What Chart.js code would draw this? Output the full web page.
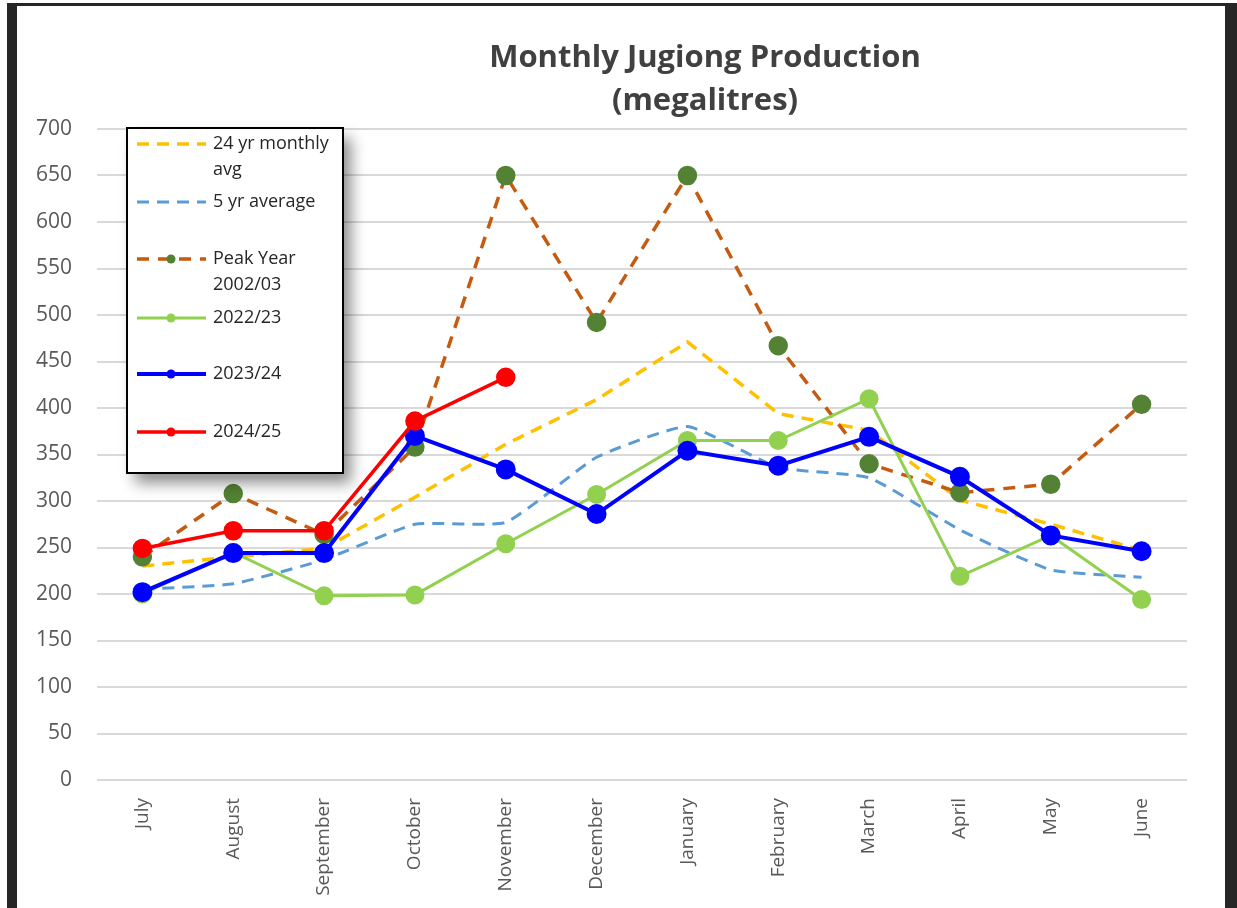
<!DOCTYPE html>
<html>
<head>
<meta charset="utf-8">
<script src="https://cdn.jsdelivr.net/npm/chart.js@4.4.1/dist/chart.umd.min.js"></script>
<style>
  body { margin: 0; background: #fff; }
  #wrap { position: relative; width: 1237px; height: 908px; overflow: hidden; }
  #chart { position: absolute; left: 0; top: 0; }
  .frame { position: absolute; background: #262626; }
</style>
</head>
<body>
<div id="wrap">
  <canvas id="chart" width="1237" height="908"></canvas>
  <div class="frame" style="left:7px;top:3px;width:1230px;height:3px"></div>
  <div class="frame" style="left:7px;top:3px;width:10px;height:905px"></div>
  <div class="frame" style="left:1225px;top:3px;width:12px;height:905px"></div>
</div>
<script>
// chart data
const titleLines = ["Monthly Jugiong Production", "(megalitres)"];
const months = ["July", "August", "September", "October", "November", "December",
  "January", "February", "March", "April", "May", "June"];
const avg24yr = [230, 240, 249, 304, 361, 409, 471, 394, 376, 301, 275, 247];
const avg5yr = [205, 211, 237, 275, 277, 347, 380, 336, 325, 269, 226, 218];
const peak0203 = [240, 308, 264, 358, 650, 492, 650, 467, 340, 309, 318, 404];
const year2223 = [200, 245, 198, 199, 254, 307, 365, 365, 410, 219, 263, 194];
const year2324 = [202, 244, 244, 370, 334, 286, 354, 338, 369, 326, 263, 246];
const year2425 = [249, 268, 268, 386, 433];
const yTicks = { min: 0, max: 700, step: 50 };

const ctx = document.getElementById("chart").getContext("2d");

// title drawn off-centre like the original
const titlePlugin = {
  id: "titleText",
  afterDraw(chart) {
    const c = chart.ctx;
    c.save();
    c.font = 'bold 31px "Open Sans"';
    c.fillStyle = "#404040";
    c.textAlign = "center";
    c.textBaseline = "alphabetic";
    titleLines.forEach((t, i) => c.fillText(t, 705, 67 + i * 43));
    c.restore();
  },
};

// boxed legend floating over the plot
const legendPlugin = {
  id: "boxLegend",
  afterDraw(chart) {
    const c = chart.ctx;
    const rowY = [144, 202, 259, 318, 374, 432];
    c.save();
    c.shadowColor = "rgba(0,0,0,0.45)";
    c.shadowBlur = 14;
    c.shadowOffsetX = 8;
    c.shadowOffsetY = 10;
    c.fillStyle = "#fff";
    c.fillRect(127, 128, 216, 345);
    c.restore();
    c.save();
    c.strokeStyle = "#000";
    c.lineWidth = 2;
    c.strokeRect(127, 128, 216, 345);
    c.font = '18px "Open Sans"';
    c.textBaseline = "middle";
    chart.data.datasets.forEach((ds, i) => {
      const y = rowY[i];
      c.strokeStyle = ds.borderColor;
      c.lineWidth = ds.borderWidth;
      c.setLineDash(ds.borderDash || []);
      c.beginPath();
      c.moveTo(137, y);
      c.lineTo(206, y);
      c.stroke();
      c.setLineDash([]);
      if (ds.pointRadius > 0) {
        c.fillStyle = ds.pointBackgroundColor;
        c.beginPath();
        c.arc(171, y, 4.5, 0, Math.PI * 2);
        c.fill();
      }
      // wrap label text
      c.fillStyle = "#262626";
      const words = ds.label.split(" ");
      let line = "";
      let ly = y;
      words.forEach((w) => {
        const test = line ? line + " " + w : w;
        if (c.measureText(test).width > 125 && line) {
          c.fillText(line, 213, ly);
          line = w;
          ly += 26;
        } else {
          line = test;
        }
      });
      c.fillText(line, 213, ly);
    });
    c.restore();
  },
};

new Chart(ctx, {
  type: "line",
  data: {
    labels: months,
    datasets: [
      {
        label: "24 yr monthly avg",
        data: avg24yr,
        borderColor: "#FFC000",
        borderWidth: 3.5,
        borderDash: [12, 8],
        pointRadius: 0,
        order: 6,
      },
      {
        label: "5 yr average",
        data: avg5yr,
        borderColor: "#5B9BD5",
        borderWidth: 3,
        borderDash: [12, 8],
        pointRadius: 0,
        tension: 0.15,
        order: 5,
      },
      {
        label: "Peak Year 2002/03",
        data: peak0203,
        borderColor: "#C55A11",
        borderWidth: 3.5,
        borderDash: [12, 9],
        pointRadius: 8,
        pointBackgroundColor: "#548235",
        pointBorderColor: "#548235",
        order: 4,
      },
      {
        label: "2022/23",
        data: year2223,
        borderColor: "#92D050",
        borderWidth: 3,
        pointRadius: 8,
        pointBackgroundColor: "#92D050",
        pointBorderColor: "#92D050",
        order: 3,
      },
      {
        label: "2023/24",
        data: year2324,
        borderColor: "#0000FF",
        borderWidth: 4,
        pointRadius: 8,
        pointBackgroundColor: "#0000FF",
        pointBorderColor: "#0000FF",
        order: 2,
      },
      {
        label: "2024/25",
        data: year2425,
        borderColor: "#FF0000",
        borderWidth: 3.5,
        pointRadius: 8,
        pointBackgroundColor: "#FF0000",
        pointBorderColor: "#FF0000",
        order: 1,
      },
    ],
  },
  options: {
    responsive: false,
    animation: false,
    layout: { padding: { top: 129, right: 50, left: 0, bottom: 0 } },
    plugins: {
      legend: { display: false },
      title: { display: false },
      tooltip: { enabled: false },
    },
    scales: {
      x: {
        offset: true,
        grid: { display: false, offset: true },
        border: { display: false },
        ticks: {
          minRotation: 90,
          maxRotation: 90,
          padding: 10,
          color: "#595959",
          font: { family: "Open Sans", size: 19 },
        },
        afterFit(scale) {
          scale.height = 128;
        },
      },
      y: {
        min: yTicks.min,
        max: yTicks.max,
        grid: { color: "#d9d9d9", lineWidth: 2, drawTicks: false },
        border: { display: false },
        ticks: {
          stepSize: yTicks.step,
          padding: 25,
          color: "#595959",
          font: { family: "Open Sans", size: 21 },
        },
        afterFit(scale) {
          scale.width = 97;
        },
      },
    },
  },
  plugins: [titlePlugin, legendPlugin],
});
</script>
</body>
</html>
